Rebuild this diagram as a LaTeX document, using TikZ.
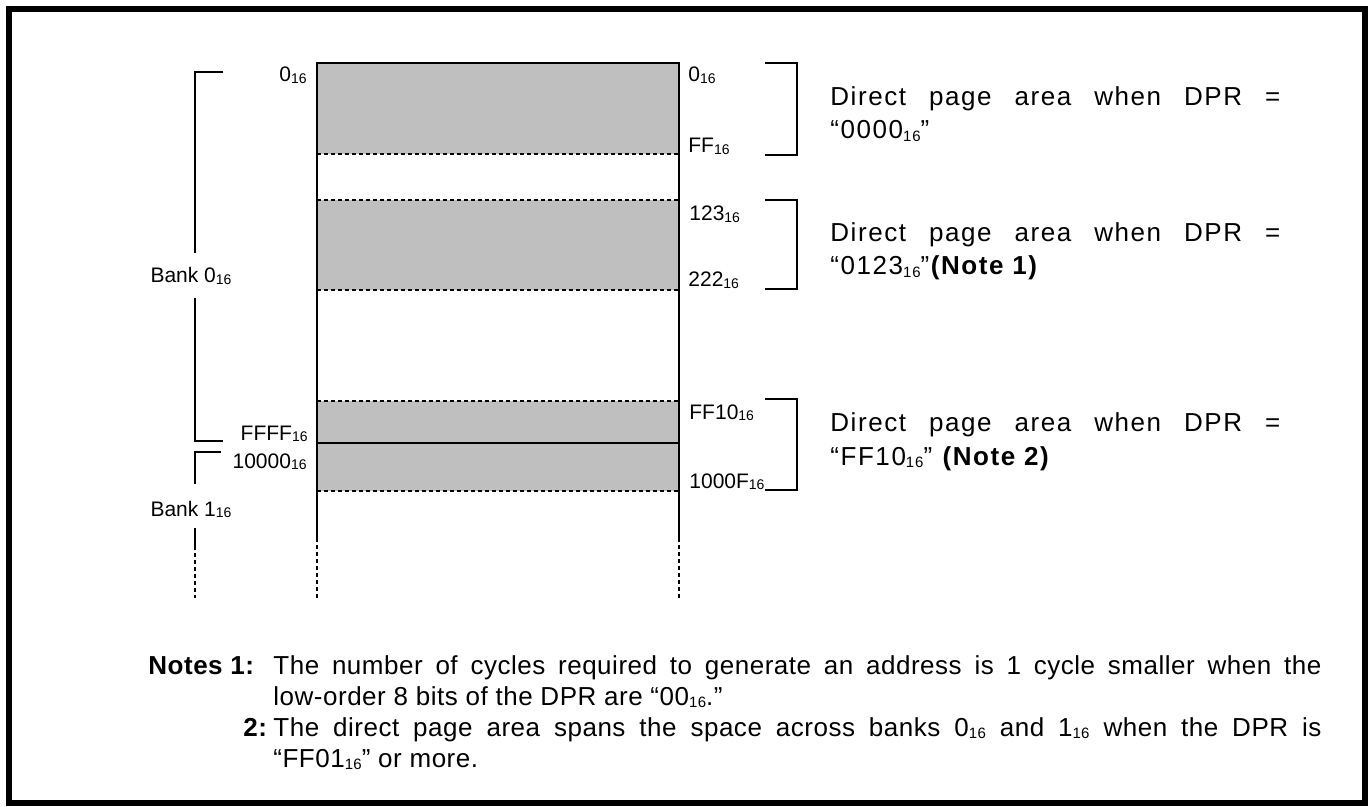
\documentclass[tikz,border=0pt]{standalone}
\usepackage{fontspec}
\setmainfont{Liberation Sans}
\newfontfamily\widefont[LetterSpace=6]{Liberation Sans}
\newfontfamily\notefont[LetterSpace=2]{Liberation Sans}
\newcommand{\hx}[1]{#1\raisebox{-0.15ex}{\fontsize{7}{8}\selectfont 16}}
\newcommand{\hs}[1]{#1\raisebox{-0.15ex}{\fontsize{7.5}{8}\selectfont 16}}
\tikzset{
	lbl/.style={font=\fontsize{10.5}{12}\selectfont, inner sep=0pt},
	area/.style={fill=black!25},
	wall/.style={line width=1pt},
	dots/.style={line width=1pt, dash pattern=on 2pt off 1.5pt},
	brak/.style={line width=1pt},
	dpr/.style={font=\widefont\fontsize{13}{15}\selectfont, inner sep=0pt, anchor=base west},
	note/.style={font=\notefont\fontsize{13}{15}\selectfont, inner sep=0pt, anchor=base west}
}

\begin{document}
\begin{tikzpicture}[x=0.5pt,y=-0.5pt]
	\useasboundingbox (0,0) rectangle (1369,807);
	\draw[line width=3pt] (9,9) rectangle (1365,803);
	% memory map
	\coordinate (tl) at (316.5,63);
	\coordinate (tr) at (679,63);
	\fill[area] (316.5,63) rectangle (679,154);
	\fill[area] (316.5,200.5) rectangle (679,290);
	\fill[area] (316.5,400.5) rectangle (679,491);
	\draw[wall] (tl)--(tr);
	\draw[wall] (316.5,442.5)--(679,442.5);
	\foreach \y in {154,200.5,290,400.5,491}
		\draw[dots] (316.5,\y)--(679,\y);
	\foreach \x in {316.5,679}{
		\draw[wall] (\x,62.5)--(\x,542);
		\draw[dots] (\x,545)--(\x,598);
	}
	% bank brackets
	\node (b0) at(191,283)[lbl,anchor=base]{Bank \hx{0}};
	\node (b1) at(191,516)[lbl,anchor=base]{Bank \hx{1}};
	\draw[brak] (223,72)-|(195,253);
	\draw[brak] (195,298)|-(223,441);
	\draw[brak] (221,451.5)-|(195,484);
	\draw[brak] (195,528)--(195,550);
	\draw[dots] (195,553)--(195,598);
	% addresses
	\node (a0) at(307,81.7)[lbl,anchor=base east]{\hx{0}};
	\node (aFFFF) at(308,440)[lbl,anchor=base east]{\hx{FFFF}};
	\node (a10000) at(307,468)[lbl,anchor=base east]{\hx{10000}};
	\node (r0) at(688,81.7)[lbl,anchor=base west]{\hx{0}};
	\node (rFF) at(688,153)[lbl,anchor=base west]{\hx{FF}};
	\node (r123) at(689,221)[lbl,anchor=base west]{\hx{123}};
	\node (r222) at(688,287)[lbl,anchor=base west]{\hx{222}};
	\node (rFF10) at(689,419)[lbl,anchor=base west]{\hx{FF10}};
	\node (r1000F) at(689,488)[lbl,anchor=base west]{\hx{1000F}};
	% direct page brackets
	\draw[brak] (765,63.3)-|(796.5,154.7)--(765,154.7);
	\draw[brak] (765,200)-|(796.5,289.5)--(765,289.5);
	\draw[brak] (765,398.5)-|(796.5,490)--(765,490);
	\node (d1) at(830,106)[dpr]{\makebox[225pt][s]{Direct page area when DPR =}};
	\node (d1b) at(830,139)[dpr]{“\hs{0000}”};
	\node (d2) at(830,242)[dpr]{\makebox[225pt][s]{Direct page area when DPR =}};
	\node (d2b) at(830,275)[dpr]{“\hs{0123}”\textbf{(Note 1)}};
	\node (d3) at(830,431)[dpr]{\makebox[225pt][s]{Direct page area when DPR =}};
	\node (d3b) at(830,465)[dpr]{“\hs{FF10}” \textbf{(Note 2)}};
	% notes
	\node (n1h) at(148,674)[note]{\textbf{Notes 1:}};
	\node (n1) at(273,674)[note]{\makebox[524pt][s]{The number of cycles required to generate an address is 1 cycle smaller when the}};
	\node (n1b) at(273,705)[note]{low-order 8 bits of the DPR are “\hs{00}.”};
	\node (n2h) at(268,736)[note,anchor=base east]{\textbf{2:}};
	\node (n2) at(273,736)[note]{\makebox[524pt][s]{The direct page area spans the space across banks \hs{0} and \hs{1} when the DPR is}};
	\node (n2b) at(273,767)[note]{“\hs{FF01}” or more.};
\end{tikzpicture}
\end{document}
